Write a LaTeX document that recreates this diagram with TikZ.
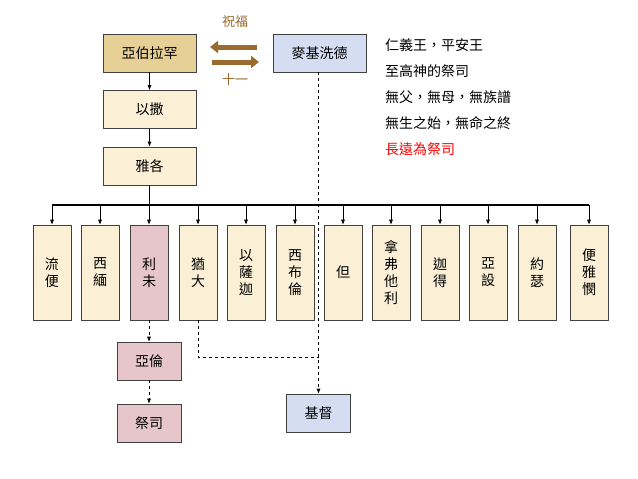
\documentclass[tikz,border=0pt]{standalone}
\usepackage{fontspec}
\setmainfont{Noto Sans CJK TC}
\usetikzlibrary{arrows.meta}
\definecolor{cream}{HTML}{FBF0D6}
\definecolor{tan}{HTML}{E6D096}
\definecolor{pinkb}{HTML}{E6C6CA}
\definecolor{blueb}{HTML}{D4DDF2}
\definecolor{brownar}{HTML}{9A6A2E}
\begin{document}
\begin{tikzpicture}[x=1pt,y=-1pt,
 box/.style={draw=black!75,line width=0.6pt,minimum width=93pt,minimum height=38pt,font=\fontsize{14}{16}\selectfont,inner sep=0pt},
 tall/.style={draw=black!75,line width=0.6pt,fill=cream,minimum width=38pt,minimum height=95pt,font=\fontsize{14}{17}\selectfont,align=center,inner sep=0pt},
 sm/.style={draw=black!75,line width=0.6pt,minimum width=64pt,minimum height=38pt,font=\fontsize{14}{16}\selectfont,inner sep=0pt},
 ar/.style={-{Latex[length=5pt,width=4pt]},line width=0.6pt},
 da/.style={dashed,line width=0.6pt},
 big/.style={line width=5pt,brownar,-{Triangle[length=8pt,width=12pt]}}]
\useasboundingbox (0,0) rectangle (638,479);
\node[box,fill=tan] (abr) at (149.5,53) {亞伯拉罕};
\node[box,fill=blueb] (mel) at (319.5,53) {麥基洗德};
\node[box,fill=cream] (isa) at (149.5,109.5) {以撒};
\node[box,fill=cream] (jac) at (149.5,166) {雅各};
\draw[ar] (abr) -- (isa);
\draw[ar] (isa) -- (jac);
\coordinate (h) at (149.5,205);
\draw[line width=0.6pt] (jac.south) -- (h);
\draw[line width=1.2pt] (52,205) -- (589,205);
\foreach \n/\x/\t in {t1/52/流\\便,t2/100/西\\緬,t4/198/猶\\大,t5/246/以\\薩\\迦,t6/295/西\\布\\倫,t7/343/但,t8/391/拿\\弗\\他\\利,t9/440/迦\\得,t10/488/亞\\設,t11/537/約\\瑟,t12/589/便\\雅\\憫}{
 \node[tall] (\n) at (\x,272.5) {\t};
 \draw[ar] (\x,205) -- (\n.north);
}
\node[tall,fill=pinkb] (t3) at (149,272.5) {利\\未};
\draw[ar] (149,205) -- (t3.north);
\node[sm,fill=pinkb] (aar) at (149,361) {亞倫};
\node[sm,fill=pinkb] (pri) at (149,423) {祭司};
\node[sm,fill=blueb] (chr) at (318.5,413) {基督};
\draw[ar,da] (t3) -- (aar);
\draw[ar,da] (aar) -- (pri);
\draw[ar,da] (mel.south -| chr.north) -- (chr.north);
\coordinate (j) at (318.5,357);
\draw[da] (t4.south) |- (j);
\draw[big] (257,47) -- (210,47);
\draw[big] (212,62) -- (259,62);
\node[font=\fontsize{13}{15}\selectfont,text=brownar] (bl) at (235,22) {祝福};
\node[font=\fontsize{13}{15}\selectfont,text=brownar] (te) at (235,80) {十一};
\node[anchor=north west,align=left,font=\fontsize{14}{26}\selectfont,inner sep=0pt] (txt) at (385,38) {仁義王，平安王\\至高神的祭司\\無父，無母，無族譜\\無生之始，無命之終\\\textcolor{red}{長遠為祭司}};
\end{tikzpicture}
\end{document}
